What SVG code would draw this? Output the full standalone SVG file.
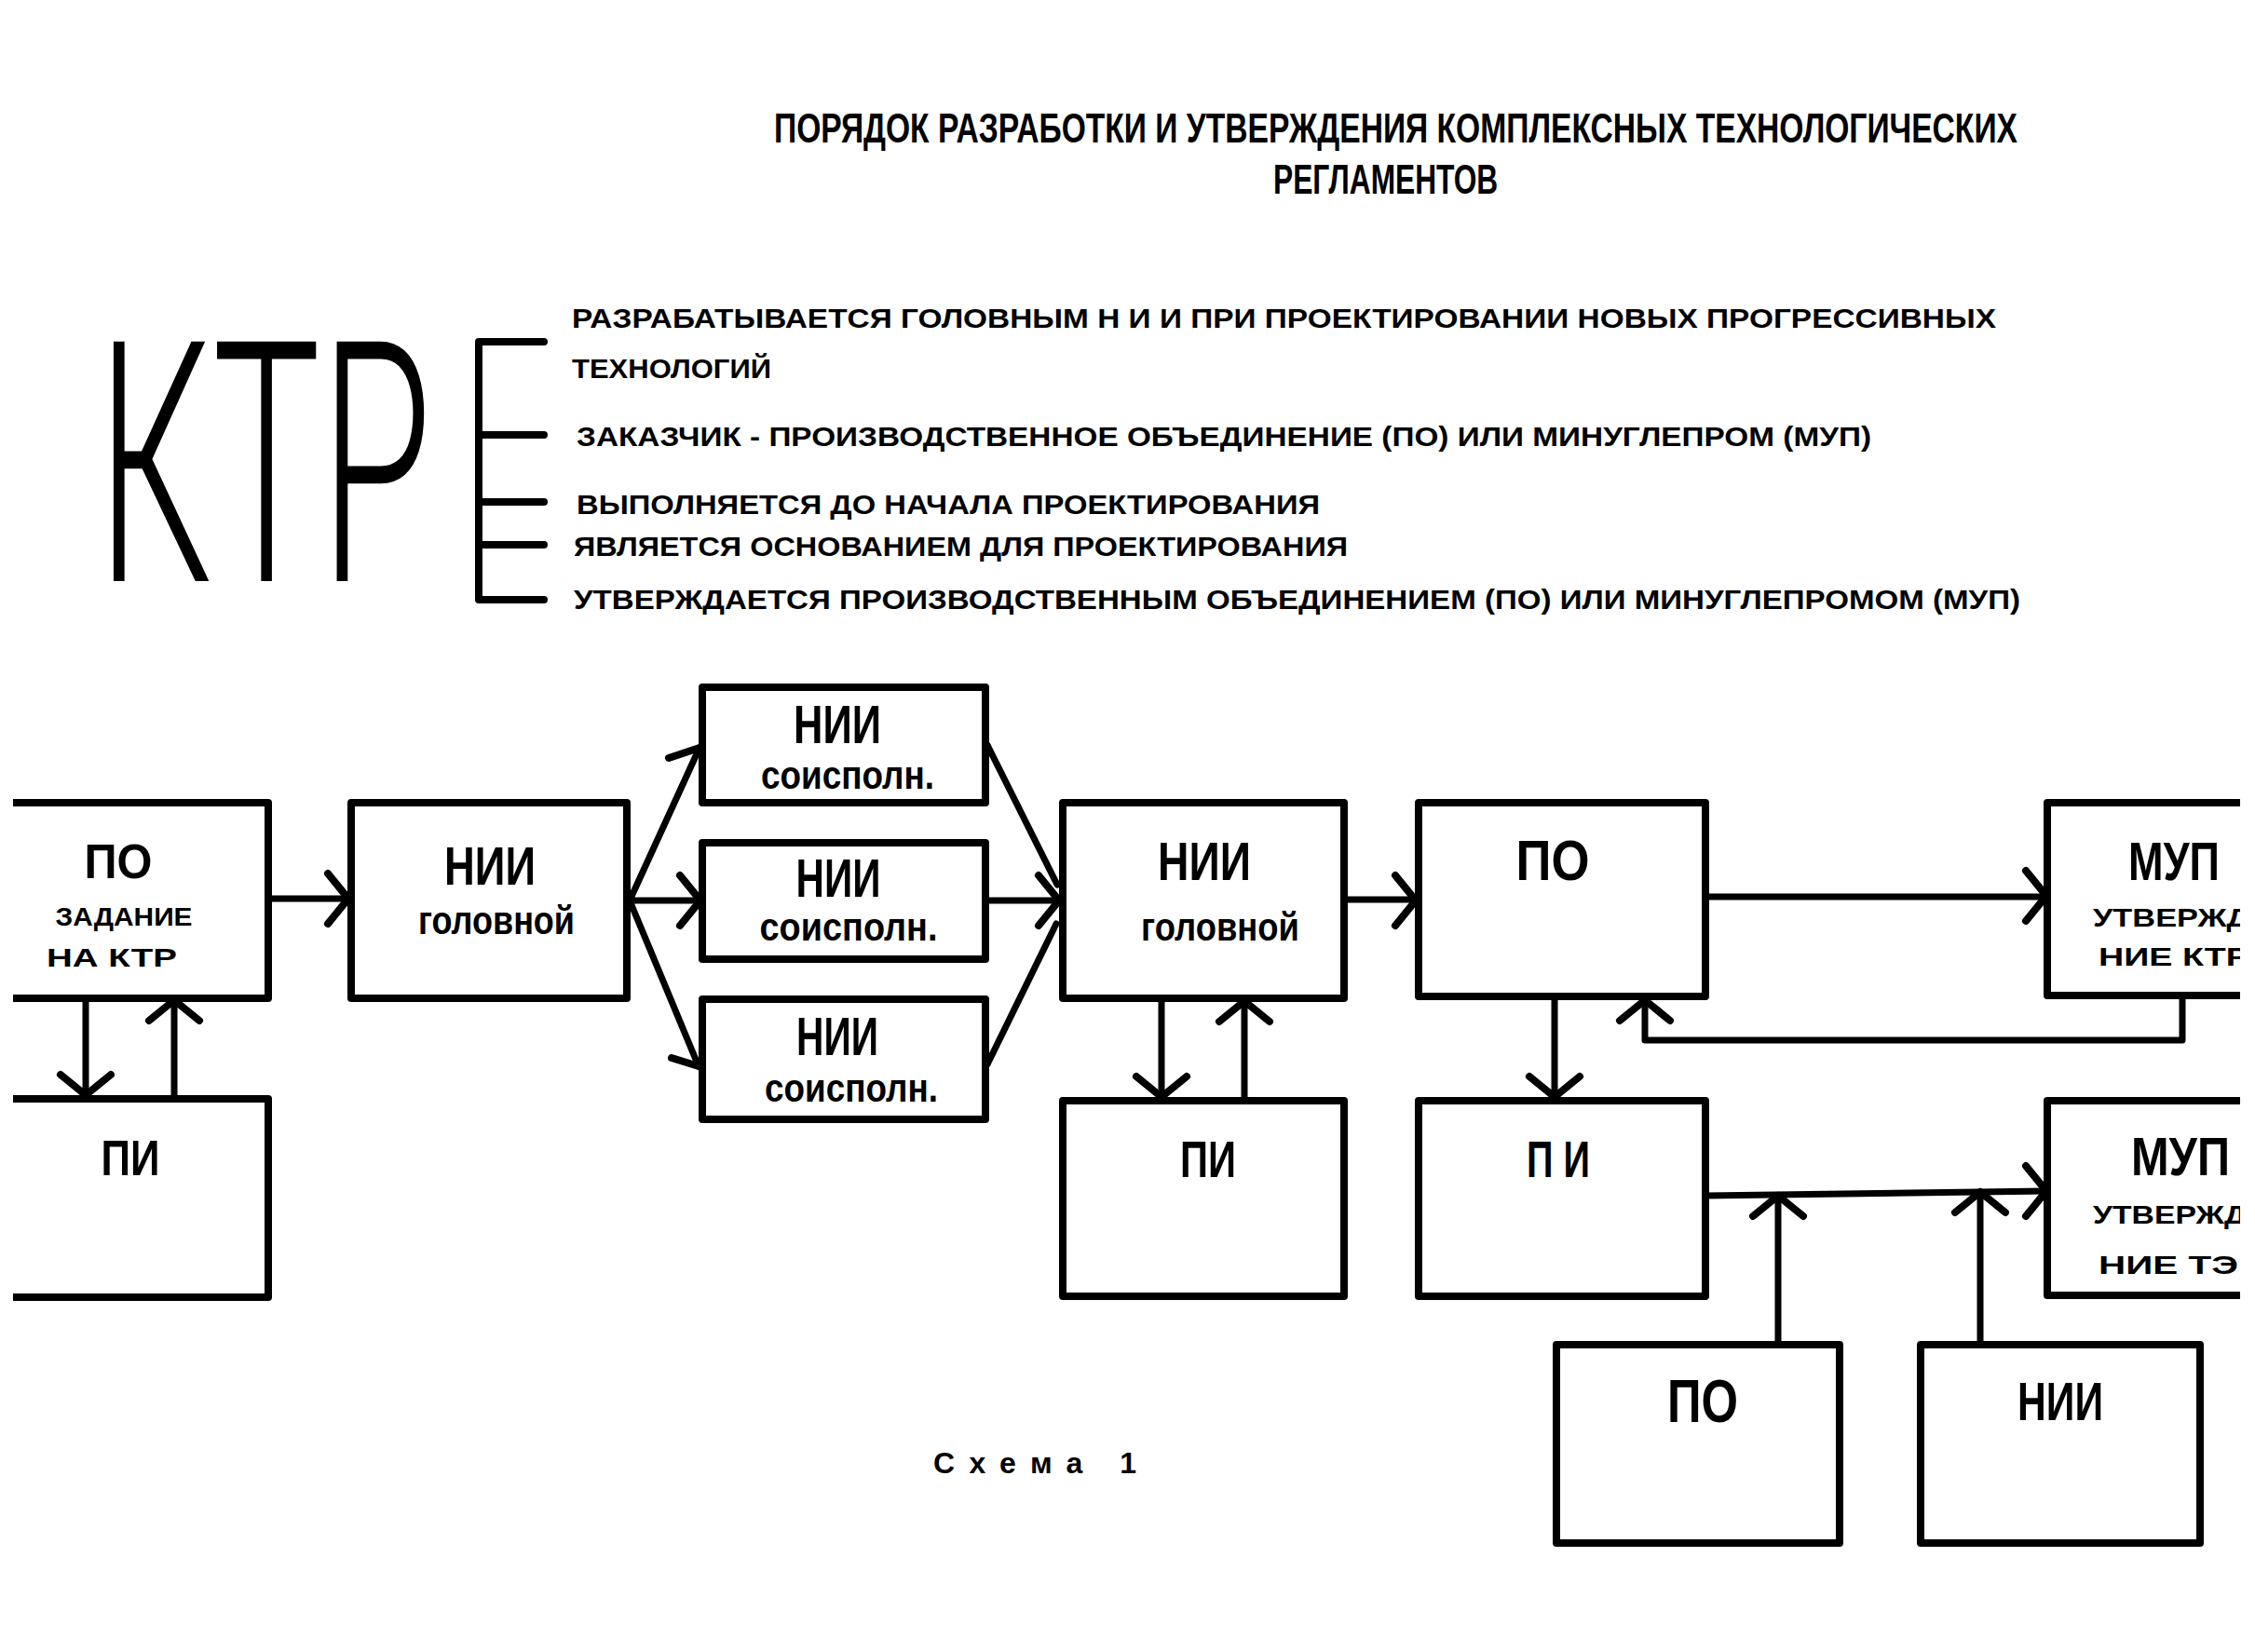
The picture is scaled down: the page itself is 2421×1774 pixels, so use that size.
<svg xmlns="http://www.w3.org/2000/svg" xmlns:xlink="http://www.w3.org/1999/xlink" width="2421" height="1774" viewBox="0 0 2421 1774">
<style>
.bx{fill:none;stroke:#000;stroke-width:8;stroke-linejoin:round;stroke-linecap:square}
.ln{fill:none;stroke:#000;stroke-width:7;stroke-linejoin:round;stroke-linecap:round}
.t{font-family:"Liberation Sans Narrow","Liberation Sans",Arial,sans-serif;font-weight:bold;fill:#000}
.big{font-size:58px}
.sm{font-size:28px}
.lc{font-size:42px}
.hd{font-size:29px}
.c{text-anchor:middle}
</style>
<defs>
<path id="chev" d="M-22,-27 L0,0 L-22,27" fill="none" stroke="#000" stroke-width="8" stroke-linecap="round" stroke-linejoin="round"/>
<clipPath id="pg"><rect x="0" y="0" width="2405" height="1774"/></clipPath>
</defs>
<rect x="0" y="0" width="2421" height="1774" fill="#fff"/>

<g id="title">
<text transform="translate(831,153) scale(0.74,1)" font-family="Liberation Sans,Arial,sans-serif" font-weight="bold" font-size="44" textLength="1804" lengthAdjust="spacingAndGlyphs" fill="#000">ПОРЯДОК РАЗРАБОТКИ И УТВЕРЖДЕНИЯ КОМПЛЕКСНЫХ ТЕХНОЛОГИЧЕСКИХ</text>
<text transform="translate(1367,208) scale(0.74,1)" font-family="Liberation Sans,Arial,sans-serif" font-weight="bold" font-size="44" textLength="326" lengthAdjust="spacingAndGlyphs" fill="#000">РЕГЛАМЕНТОВ</text>
</g>

<g id="ktr">
<text transform="translate(104,624) scale(0.545,1)" font-family="Roboto,Liberation Sans,Arial,sans-serif" font-weight="300" font-size="362" textLength="660" lengthAdjust="spacingAndGlyphs" fill="#000">КТР</text>
<path class="ln" d="M584,367 H514 V644 H584 M514,467 H584 M514,539 H584 M514,585 H584" style="stroke-width:8"/>
</g>

<g id="ktr-notes">
<text class="t hd" x="614" y="352" textLength="1529" lengthAdjust="spacingAndGlyphs">РАЗРАБАТЫВАЕТСЯ ГОЛОВНЫМ  Н И И  ПРИ ПРОЕКТИРОВАНИИ НОВЫХ ПРОГРЕССИВНЫХ</text>
<text class="t hd" x="614" y="406" textLength="214" lengthAdjust="spacingAndGlyphs">ТЕХНОЛОГИЙ</text>
<text class="t hd" x="619" y="479" textLength="1390" lengthAdjust="spacingAndGlyphs">ЗАКАЗЧИК - ПРОИЗВОДСТВЕННОЕ ОБЪЕДИНЕНИЕ (ПО) ИЛИ МИНУГЛЕПРОМ (МУП)</text>
<text class="t hd" x="619" y="552" textLength="798" lengthAdjust="spacingAndGlyphs">ВЫПОЛНЯЕТСЯ  ДО НАЧАЛА ПРОЕКТИРОВАНИЯ</text>
<text class="t hd" x="616" y="597" textLength="831" lengthAdjust="spacingAndGlyphs">ЯВЛЯЕТСЯ ОСНОВАНИЕМ ДЛЯ ПРОЕКТИРОВАНИЯ</text>
<text class="t hd" x="616" y="654" textLength="1553" lengthAdjust="spacingAndGlyphs">УТВЕРЖДАЕТСЯ ПРОИЗВОДСТВЕННЫМ ОБЪЕДИНЕНИЕМ (ПО) ИЛИ МИНУГЛЕПРОМОМ (МУП)</text>
</g>

<g id="connectors">
<path class="ln" d="M288,965 H374"/>
<use href="#chev" transform="translate(374,965)"/>
<path class="ln" d="M92,1072 V1176"/>
<use href="#chev" transform="translate(92,1176) rotate(90)"/>
<path class="ln" d="M187,1180 V1074"/>
<use href="#chev" transform="translate(187,1074) rotate(-90)"/>
<path class="ln" d="M676,967 L751,803 M676,967 H752 M676,967 L750,1145"/>
<path class="ln" d="M718,814 L751,803 M721,1136 L750,1145" style="stroke-width:8"/>
<use href="#chev" transform="translate(752,967)"/>
<path class="ln" d="M1060,800 L1135,950 M1058,967 H1137 M1060,1143 L1134,992"/>
<use href="#chev" transform="translate(1137,967)"/>
<path class="ln" d="M1443,966 H1520"/>
<use href="#chev" transform="translate(1520,967)"/>
<path class="ln" d="M1831,963 H2197"/>
<use href="#chev" transform="translate(2197,962)"/>
<path class="ln" d="M1247,1072 V1178"/>
<use href="#chev" transform="translate(1247,1178) rotate(90)"/>
<path class="ln" d="M1336,1182 V1075"/>
<use href="#chev" transform="translate(1336,1075) rotate(-90)"/>
<path class="ln" d="M1669,1070 V1178"/>
<use href="#chev" transform="translate(1669,1178) rotate(90)"/>
<path class="ln" d="M2343,1069 V1117 H1766 V1074"/>
<use href="#chev" transform="translate(1766,1074) rotate(-90)"/>
<path class="ln" d="M1831,1284 L2197,1279"/>
<use href="#chev" transform="translate(2197,1279)"/>
<path class="ln" d="M1909,1444 V1284"/>
<use href="#chev" transform="translate(1909,1284) rotate(-90)"/>
<path class="ln" d="M2126,1444 V1280"/>
<use href="#chev" transform="translate(2126,1280) rotate(-90)"/>
</g>

<g id="po-left">
<path class="bx" d="M18,862 H288 V1072 H18"/>
<text class="t c" x="127" y="943" font-size="52" textLength="73" lengthAdjust="spacingAndGlyphs">ПО</text>
<text class="t c sm" x="133" y="994" textLength="147" lengthAdjust="spacingAndGlyphs">ЗАДАНИЕ</text>
<text class="t c sm" x="120" y="1038" textLength="140" lengthAdjust="spacingAndGlyphs">НА КТР</text>
</g>
<g id="pi-left">
<path class="bx" d="M18,1180 H288 V1393 H18"/>
<text class="t c" x="140" y="1262" font-size="54" textLength="63" lengthAdjust="spacingAndGlyphs">ПИ</text>
</g>
<g id="nii-gol-1">
<rect class="bx" x="377" y="862" width="296" height="210"/>
<text class="t c big" x="526" y="950" textLength="98" lengthAdjust="spacingAndGlyphs">НИИ</text>
<text class="t c lc" x="533" y="1003" textLength="168" lengthAdjust="spacingAndGlyphs">головной</text>
</g>
<g id="nii-s-1">
<rect class="bx" x="754" y="738" width="304" height="124"/>
<text class="t c big" x="899" y="798" textLength="94" lengthAdjust="spacingAndGlyphs">НИИ</text>
<text class="t c lc" x="910" y="847" textLength="186" lengthAdjust="spacingAndGlyphs">соисполн.</text>
</g>
<g id="nii-s-2">
<rect class="bx" x="754" y="905" width="304" height="125"/>
<text class="t c big" x="900" y="963" textLength="91" lengthAdjust="spacingAndGlyphs">НИИ</text>
<text class="t c lc" x="911" y="1010" textLength="191" lengthAdjust="spacingAndGlyphs">соисполн.</text>
</g>
<g id="nii-s-3">
<rect class="bx" x="754" y="1073" width="304" height="129"/>
<text class="t c big" x="899" y="1133" textLength="88" lengthAdjust="spacingAndGlyphs">НИИ</text>
<text class="t c lc" x="914" y="1183" textLength="186" lengthAdjust="spacingAndGlyphs">соисполн.</text>
</g>
<g id="nii-gol-2">
<rect class="bx" x="1141" y="862" width="302" height="210"/>
<text class="t c big" x="1293" y="945" textLength="100" lengthAdjust="spacingAndGlyphs">НИИ</text>
<text class="t c lc" x="1310" y="1010" textLength="170" lengthAdjust="spacingAndGlyphs">головной</text>
</g>
<g id="po-mid">
<rect class="bx" x="1523" y="862" width="308" height="208"/>
<text class="t c" x="1667" y="945" font-size="62" textLength="79" lengthAdjust="spacingAndGlyphs">ПО</text>
</g>
<g id="mup-1" clip-path="url(#pg)">
<path class="bx" d="M2412,862 H2198 V1069 H2412"/>
<text class="t c big" x="2334" y="945" textLength="98" lengthAdjust="spacingAndGlyphs">МУП</text>
<text class="t sm" x="2247" y="995" textLength="168" lengthAdjust="spacingAndGlyphs">УТВЕРЖД</text>
<text class="t sm" x="2253" y="1037" textLength="162" lengthAdjust="spacingAndGlyphs">НИЕ КТР</text>
</g>
<g id="pi-mid">
<rect class="bx" x="1141" y="1182" width="302" height="210"/>
<text class="t c" x="1297" y="1264" font-size="56" textLength="60" lengthAdjust="spacingAndGlyphs">ПИ</text>
</g>
<g id="pi-right">
<rect class="bx" x="1523" y="1182" width="308" height="210"/>
<text class="t c" x="1673" y="1264" font-size="56" textLength="68" lengthAdjust="spacingAndGlyphs">П И</text>
</g>
<g id="mup-2" clip-path="url(#pg)">
<path class="bx" d="M2412,1182 H2198 V1391 H2412"/>
<text class="t c big" x="2341" y="1262" textLength="106" lengthAdjust="spacingAndGlyphs">МУП</text>
<text class="t sm" x="2247" y="1314" textLength="165" lengthAdjust="spacingAndGlyphs">УТВЕРЖД</text>
<text class="t sm" x="2253" y="1368" textLength="150" lengthAdjust="spacingAndGlyphs">НИЕ  ТЭ</text>
</g>
<g id="po-bottom">
<rect class="bx" x="1671" y="1444" width="304" height="213"/>
<text class="t c" x="1828" y="1527" font-size="64" textLength="76" lengthAdjust="spacingAndGlyphs">ПО</text>
</g>
<g id="nii-bottom">
<rect class="bx" x="2062" y="1444" width="300" height="213"/>
<text class="t c big" x="2212" y="1525" textLength="92" lengthAdjust="spacingAndGlyphs">НИИ</text>
</g>
<g id="caption">
<text class="t" x="1002" y="1582" font-size="32" textLength="218" lengthAdjust="spacing">Схема 1</text>
</g>
</svg>
